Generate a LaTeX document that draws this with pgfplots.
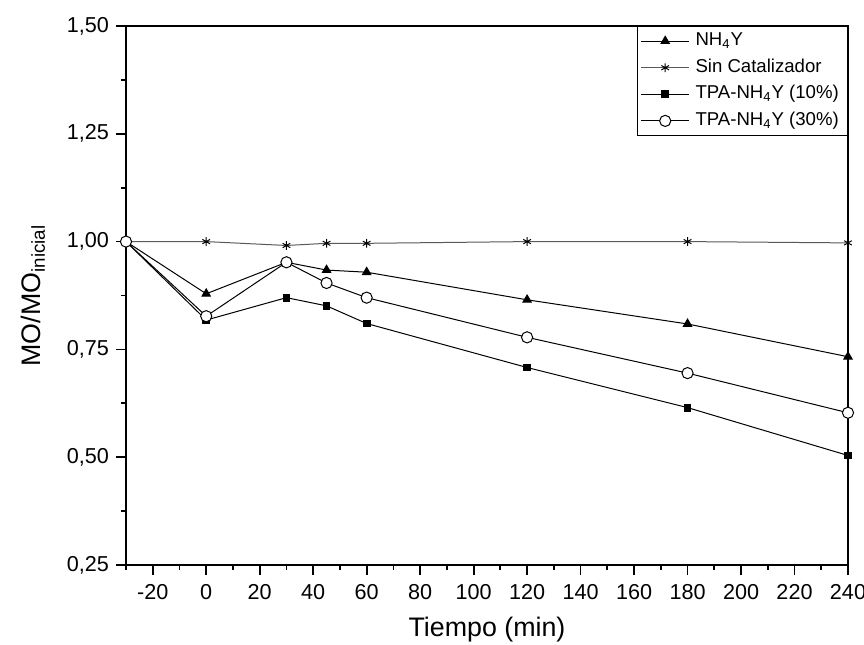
\documentclass[border=0pt]{standalone}
\usepackage{fontspec}
\setmainfont{Liberation Sans}
\usepackage{pgfplots}
\pgfplotsset{compat=1.18}

\begin{document}
\begin{tikzpicture}
\begin{axis}[
    scale only axis,
    width=361pt, height=269.5pt,
    xmin=-30, xmax=240, ymin=0.25, ymax=1.50,
    xtick={-20,0,...,240},
    minor xtick={-30,-10,...,230},
    ytick={0.25,0.50,0.75,1.00,1.25,1.50},
    minor ytick={0.375,0.625,0.875,1.125,1.375},
    tick align=outside, xtick pos=left, ytick pos=left,
    major tick length=5pt, minor tick length=2.5pt,
    every tick/.style={black, line width=0.9pt},
    axis line style={line width=1pt},
    yticklabel style={/pgf/number format/fixed, /pgf/number format/fixed zerofill,
        /pgf/number format/precision=2, /pgf/number format/use comma},
    xticklabel style={/pgf/number format/fixed, yshift=-1pt},
    /pgf/number format/assume math mode=true,
    ticklabel style={font=\fontsize{10.8}{13}\selectfont},
    xlabel={Tiempo (min)}, ylabel={MO/MO\textsubscript{inicial}},
    label style={font=\fontsize{13.4}{15}\selectfont},
    xlabel style={yshift=-2pt},
    ylabel style={yshift=4pt},
    legend style={at={(1,1)}, anchor=north east, draw=black, line width=0.6pt,
        font=\fontsize{9.3}{11}\selectfont, row sep=1.8pt, inner sep=1.5pt,
        nodes={inner ysep=1pt, inner xsep=2.8pt, text height=7pt, text depth=2.5pt}},
    legend image code/.code={
        \draw (0cm,0cm) -- (0.85cm,0cm);
        \draw[only marks] plot coordinates {(0.425cm,0cm)};},
    legend cell align=left,
    every axis plot/.append style={black, line width=0.5pt},
]
\addplot[mark=triangle*, mark size=2.4pt, mark options={solid, fill=black}] coordinates {
  (-30,1.00) (0,0.879) (30,0.952) (45,0.934) (60,0.929) (120,0.865) (180,0.809) (240,0.733)
};
\addlegendentry{NH\textsubscript{4}Y}
\addplot[gray!70!black, mark=asterisk, mark size=2.2pt, mark options={black}] coordinates {
  (-30,1.00) (0,1.00) (30,0.991) (45,0.996) (60,0.996) (120,1.00) (180,1.00) (240,0.997)
};
\addlegendentry{Sin Catalizador}
\addplot[mark=square*, mark size=1.7pt, mark options={fill=black}] coordinates {
  (-30,1.00) (0,0.818) (30,0.870) (45,0.851) (60,0.810) (120,0.708) (180,0.615) (240,0.504)
};
\addlegendentry{TPA-NH\textsubscript{4}Y (10\%)}
\addplot[mark=*, mark size=2.8pt, mark options={fill=white}] coordinates {
  (-30,1.00) (0,0.827) (30,0.952) (45,0.904) (60,0.870) (120,0.778) (180,0.695) (240,0.603)
};
\addlegendentry{TPA-NH\textsubscript{4}Y (30\%)}
\end{axis}
\pgfresetboundingbox
\useasboundingbox ([xshift=-63pt, yshift=-39.5pt]current axis.south west)
    rectangle ([xshift=8pt, yshift=13pt]current axis.north east);
\end{tikzpicture}
\end{document}
